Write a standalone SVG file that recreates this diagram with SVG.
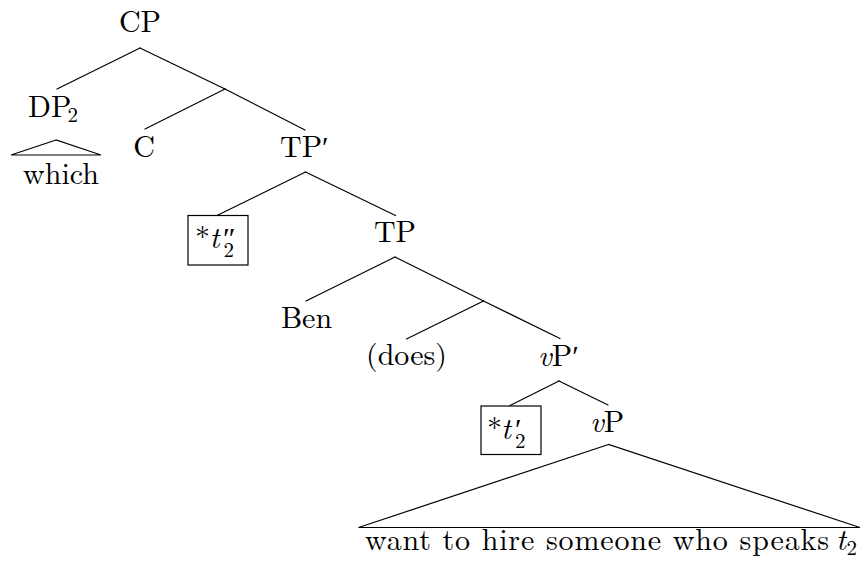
<svg xmlns="http://www.w3.org/2000/svg" width="864" height="565" viewBox="0 0 864 565">
<defs>
<style>
.m { text-anchor: middle; }
.i { font-style: italic; }
.sub { font-size: 21px; }
.edge { stroke: #000; stroke-width: 1.2; fill: none; stroke-linecap: round; }
.box { stroke: #000; stroke-width: 1.2; fill: none; }
</style>
</defs>
<rect width="864" height="565" fill="#fff"/>
<g id="connectors">
  <line class="edge" x1="140" y1="48" x2="57" y2="89"/>
  <line class="edge" x1="140" y1="48" x2="225" y2="89"/>
  <line class="edge" x1="225" y1="89" x2="145" y2="129"/>
  <line class="edge" x1="225" y1="89" x2="305" y2="130"/>
  <line class="edge" x1="305.5" y1="172" x2="217" y2="215.5"/>
  <line class="edge" x1="305.5" y1="172" x2="395.5" y2="215.5"/>
  <line class="edge" x1="395" y1="257" x2="306" y2="301"/>
  <line class="edge" x1="395" y1="257" x2="483.5" y2="301"/>
  <line class="edge" x1="483.5" y1="301" x2="406.5" y2="339"/>
  <line class="edge" x1="483.5" y1="301" x2="560" y2="338.5"/>
  <line class="edge" x1="559" y1="381" x2="510" y2="405.5"/>
  <line class="edge" x1="559" y1="381" x2="608" y2="405"/>
  <polygon class="edge" points="56,140 11,155 101,155"/>
  <polygon class="edge" points="608.5,444.5 358.5,527.5 860,527.5"/>
</g>
<g font-family="Latin Modern Roman, CMU Serif, Liberation Serif, serif" font-size="30" fill="#000">
<g id="CP"><text class="m" x="140" y="32">CP</text></g>
<g id="DP2"><text x="28" y="117">DP<tspan class="sub" x="67.5" y="122">2</tspan></text></g>
<g id="which"><text class="m" x="61" y="184">which</text></g>
<g id="C"><text class="m" x="144" y="157">C</text></g>
<g id="TPbar"><text x="280" y="157">TP′</text></g>
<g id="trace2">
  <rect class="box" x="188" y="215.5" width="60" height="49.5"/>
  <text x="195" y="248">*<tspan class="i" x="209.5">t</tspan><tspan x="223">″</tspan><tspan class="sub" x="223.5" y="257">2</tspan></text>
</g>
<g id="TP"><text class="m" x="395" y="242">TP</text></g>
<g id="Ben"><text class="m" x="306.5" y="328">Ben</text></g>
<g id="does"><text class="m" x="406.5" y="365">(does)</text></g>
<g id="vPbar"><text x="538" y="366"><tspan class="i">v</tspan>P′</text></g>
<g id="trace1">
  <rect class="box" x="481" y="406" width="60" height="48.5"/>
  <text x="487" y="439">*<tspan class="i" x="501">t</tspan><tspan x="515">′</tspan><tspan class="sub" x="515" y="448">2</tspan></text>
</g>
<g id="vP"><text x="590" y="432"><tspan class="i">v</tspan>P</text></g>
<g id="vPcontent">
  <text x="365" y="550"><tspan textLength="464" lengthAdjust="spacing">want to hire someone who speaks</tspan><tspan class="i" x="836">t</tspan><tspan class="sub" x="846.5" y="555">2</tspan></text>
</g>
</g>
</svg>
